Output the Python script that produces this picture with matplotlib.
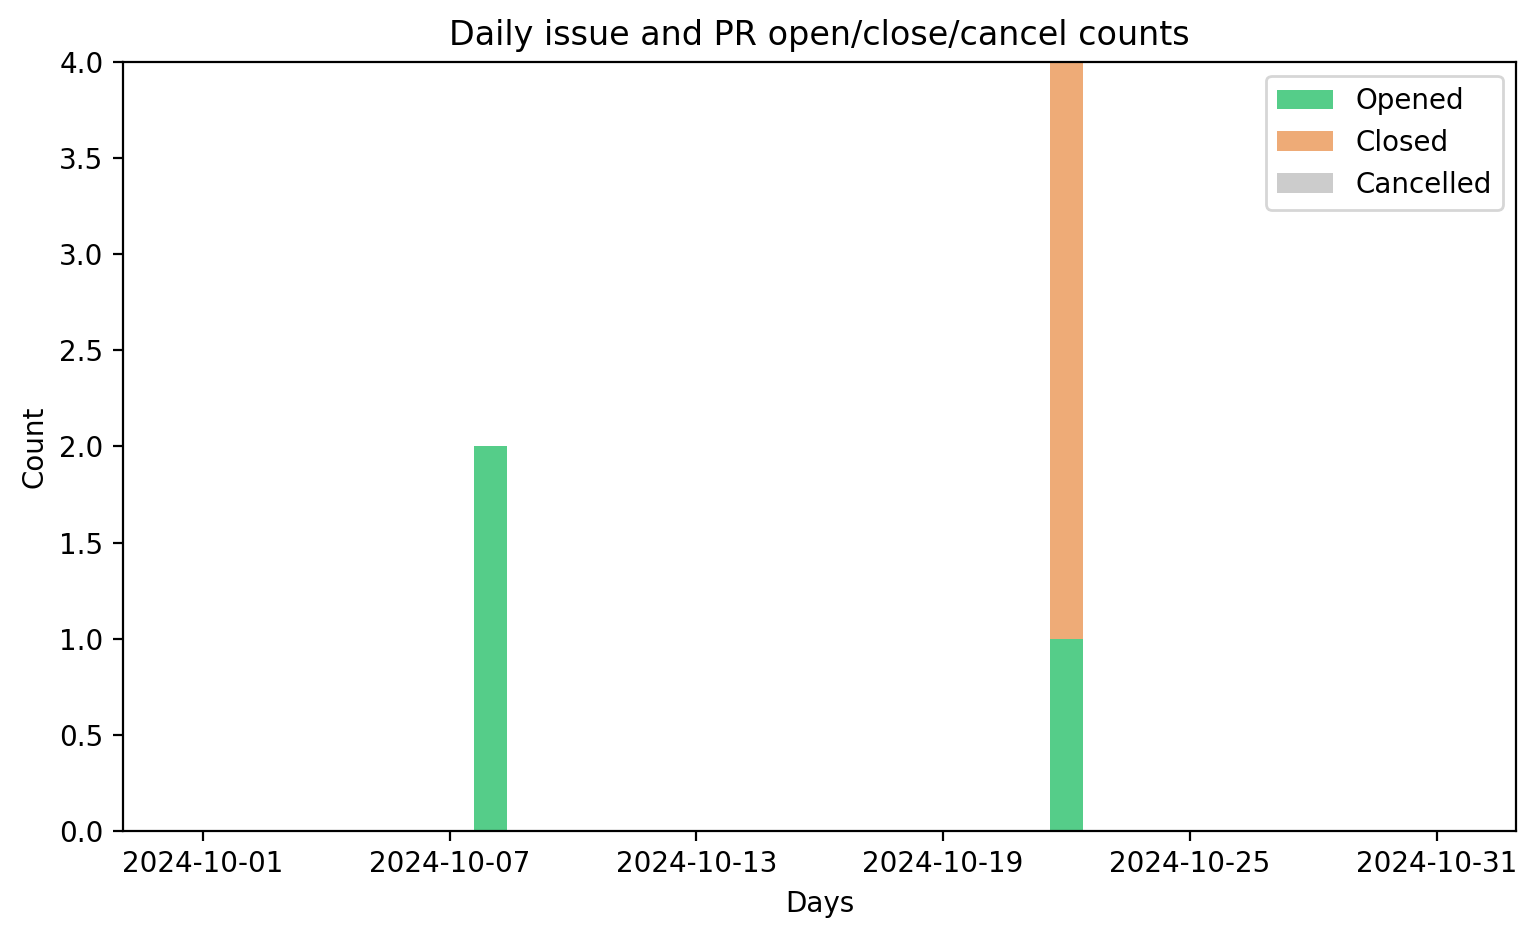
import numpy as np
import pandas as pd
import matplotlib
matplotlib.use("Agg")
import matplotlib.pyplot as plt
import matplotlib.dates as mdates

days = pd.date_range("2024-10-01", "2024-10-31", freq="D")
opened_by_day = {"2024-10-08": 2, "2024-10-22": 1}
closed_by_day = {"2024-10-22": 3}
cancelled_by_day = {}
tick_days = pd.to_datetime(["2024-10-01", "2024-10-07", "2024-10-13",
                            "2024-10-19", "2024-10-25", "2024-10-31"])

opened = np.array([opened_by_day.get(d.strftime("%Y-%m-%d"), 0) for d in days])
closed = np.array([closed_by_day.get(d.strftime("%Y-%m-%d"), 0) for d in days])
cancelled = np.array([cancelled_by_day.get(d.strftime("%Y-%m-%d"), 0) for d in days])

fig, ax = plt.subplots(figsize=(7.69, 4.695), dpi=200)
ax.bar(days, opened, width=0.8, color="#55cd89", label="Opened")
ax.bar(days, closed, width=0.8, bottom=opened, color="#eeab77", label="Closed")
ax.bar(days, cancelled, width=0.8, bottom=opened + closed, color="#cccccc", label="Cancelled")

ax.set_ylim(0, 4)
ax.set_yticks(np.arange(0, 4.01, 0.5))
ax.set_xticks(tick_days)
ax.xaxis.set_major_formatter(mdates.DateFormatter("%Y-%m-%d"))
ax.set_xlabel("Days")
ax.set_ylabel("Count")
ax.set_title("Daily issue and PR open/close/cancel counts")
ax.legend(loc="upper right")

plt.subplots_adjust(left=0.08, right=0.986, top=0.934, bottom=0.115)
plt.savefig("out.png", dpi=200)
